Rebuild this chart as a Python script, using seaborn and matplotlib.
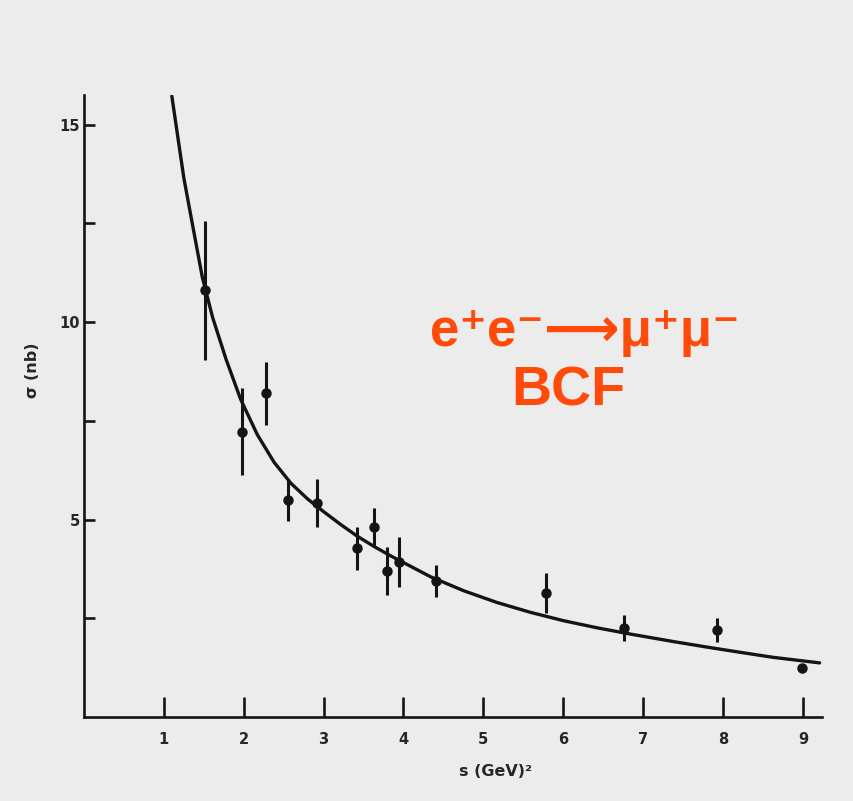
import matplotlib
matplotlib.use("Agg")
import matplotlib.pyplot as plt
import pandas as pd
import seaborn as sns

# Measured e+e- -> mu+mu- cross sections (nb) versus s (GeV^2)
s_points = [1.51, 1.975, 2.275, 2.56, 2.92, 3.42, 3.63, 3.79, 3.94, 4.41, 5.79, 6.76, 7.93, 8.99]
sigma_points = [10.8, 7.22, 8.2, 5.49, 5.42, 4.27, 4.82, 3.70, 3.92, 3.44, 3.14, 2.25, 2.20, 1.24]
sigma_err = [1.75, 1.1, 0.8, 0.53, 0.6, 0.55, 0.48, 0.6, 0.63, 0.4, 0.5, 0.33, 0.3, 0.08]

# Point-like QED expectation
s_curve = [1.10, 1.17, 1.25, 1.36, 1.48, 1.61, 1.78, 1.96, 2.17, 2.38, 2.59, 2.80, 3.00,
           3.21, 3.42, 3.63, 3.84, 4.34, 4.75, 5.17, 5.59, 6.00, 6.42, 6.84, 7.38, 7.80,
           8.21, 8.63, 9.21]
sigma_curve = [15.72, 14.75, 13.65, 12.45, 11.15, 10.12, 9.05, 8.05, 7.15, 6.45, 5.92, 5.52,
               5.20, 4.88, 4.58, 4.32, 4.08, 3.55, 3.20, 2.90, 2.65, 2.44, 2.26, 2.10, 1.91,
               1.77, 1.64, 1.51, 1.37]

x_ticks = [1, 2, 3, 4, 5, 6, 7, 8, 9]
y_major = [5, 10, 15]
y_minor = [2.5, 7.5, 12.5]

paper = "#ececec"
ink = "#141414"
red = "#ff4a0a"

sns.set_theme(style="ticks")
plt.rcParams["font.family"] = ["DejaVu Sans"]

fig = plt.figure(figsize=(8.54, 8.01), dpi=100, facecolor=paper)
ax = fig.add_axes([84 / 854, 84 / 801, 738 / 854, 622 / 801])
ax.set_facecolor(paper)

curve = pd.DataFrame({"s": s_curve, "sigma": sigma_curve})
sns.lineplot(data=curve, x="s", y="sigma", sort=False, estimator=None,
             color=ink, linewidth=2.4, solid_joinstyle="round", ax=ax)
ax.errorbar(s_points, sigma_points, yerr=sigma_err, fmt="o", ms=6.5,
            color=ink, ecolor=ink, elinewidth=2.2, capsize=0, zorder=3)

ax.set_xlim(0, 9.24)
ax.set_ylim(0, 15.75)

for side in ("top", "right"):
    ax.spines[side].set_visible(False)
for side in ("left", "bottom"):
    ax.spines[side].set_color(ink)
    ax.spines[side].set_linewidth(1.9)

ax.set_xticks(x_ticks)
ax.set_xticklabels([str(v) for v in x_ticks])
ax.set_yticks(y_major)
ax.set_yticklabels([str(v) for v in y_major])
ax.set_yticks(y_minor, minor=True)

ax.tick_params(axis="x", direction="in", length=14.5, width=1.9, color=ink,
               pad=11, labelsize=10.5, labelcolor="#262626")
ax.tick_params(axis="y", which="both", direction="in", length=8, width=1.9,
               color=ink, pad=3, labelsize=10.5, labelcolor="#262626")
for lab in ax.get_xticklabels() + ax.get_yticklabels():
    lab.set_fontweight("bold")

ax.set_xlabel("s (GeV)²", fontsize=11.5, fontweight="bold", color="#262626")
ax.xaxis.set_label_coords(0.557, -0.076)
ax.set_ylabel("σ (nb)", fontsize=11.5, fontweight="bold", color="#262626")
ax.yaxis.set_label_coords(-0.06, 0.558)

fig.text(585 / 854, (801 - 332) / 801, "e⁺e⁻⟶μ⁺μ⁻", color=red, fontsize=38,
         fontweight="bold", family=["Liberation Sans", "DejaVu Sans"],
         ha="center", va="center")
fig.text(568 / 854, (801 - 391) / 801, "BCF", color=red, fontsize=40,
         fontweight="bold", family=["Liberation Sans", "DejaVu Sans"],
         ha="center", va="center")

fig.savefig("out.png", dpi=100, facecolor=paper)
